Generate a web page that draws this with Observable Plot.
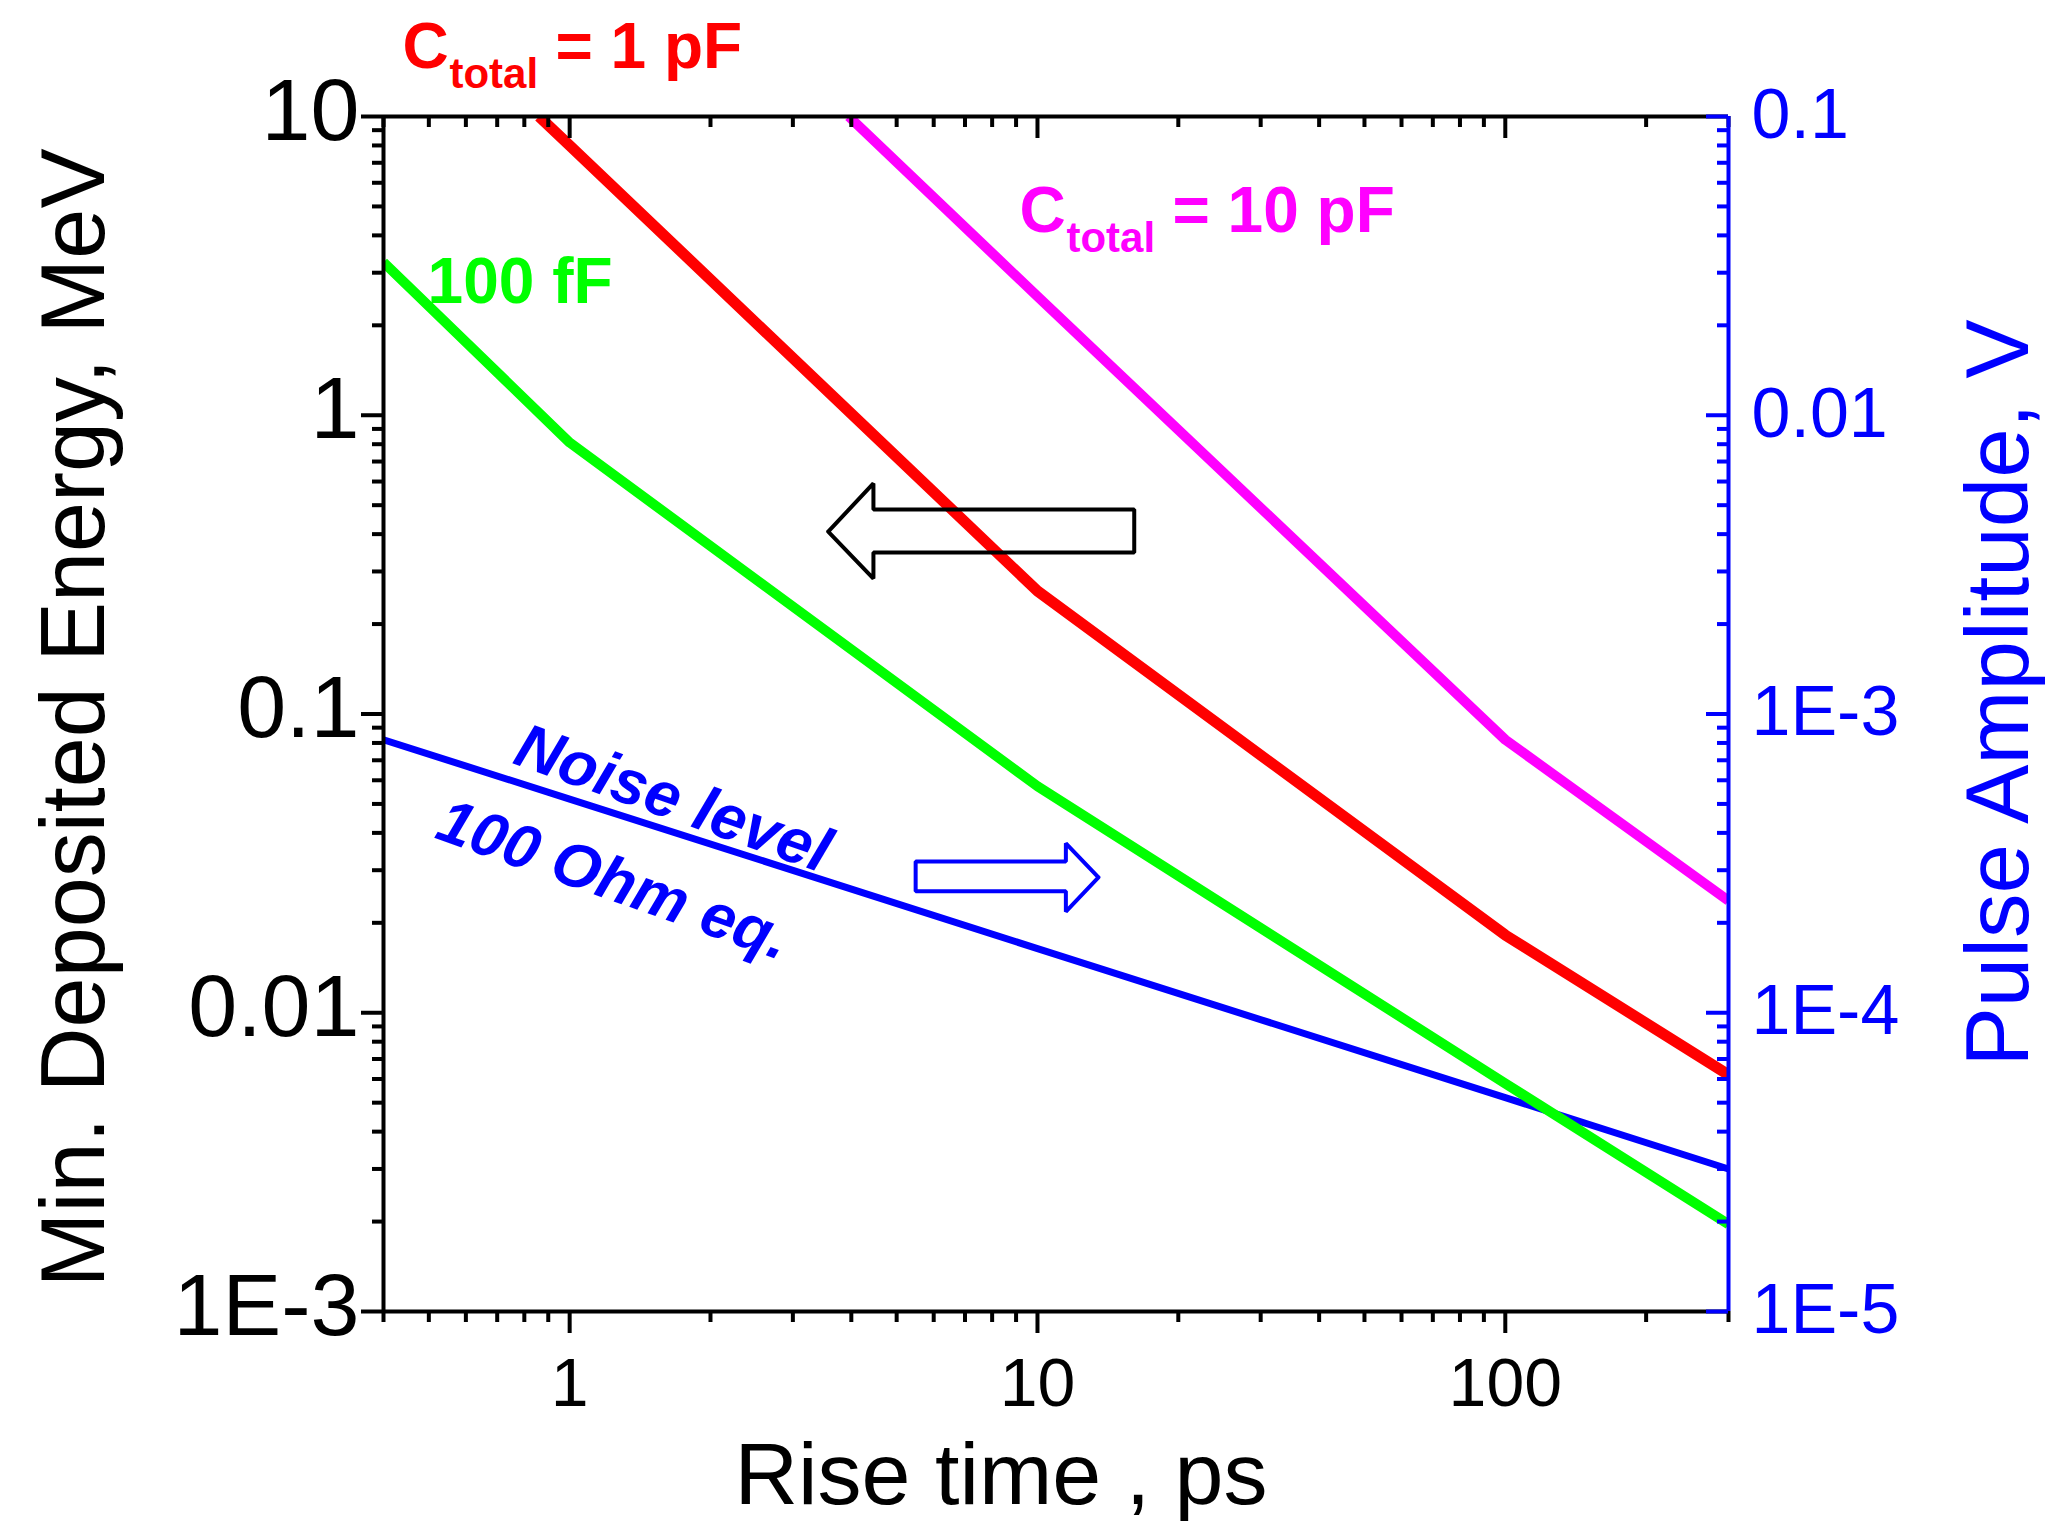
<!DOCTYPE html>
<html>
<head>
<meta charset="utf-8">
<script src="https://cdn.jsdelivr.net/npm/d3@7"></script>
<script src="https://cdn.jsdelivr.net/npm/@observablehq/plot@0.6"></script>
<style>
  html, body { margin: 0; padding: 0; background: #ffffff; }
  #chart svg { display: block; }
</style>
</head>
<body>
<div id="chart"></div>
<script>
// ---------- data ----------
const riseGreen   = [0.4, 1, 10, 100, 300];
const energyGreen = [3.25, 0.81, 0.0573, 0.0058, 0.00196];

const riseRed     = [0.86, 1, 10, 100, 300];
const energyRed   = [10, 8.0, 0.258, 0.0182, 0.0062];

const riseMagenta   = [3.95, 10, 100, 300];
const energyMagenta = [10, 2.5, 0.082, 0.0237];

const riseNoise   = [0.4, 1, 10, 100, 300];
const energyNoise = [0.082, 0.0519, 0.0164, 0.0052, 0.0030];

// axis ticks
const xDomain = [0.4, 300];
const yDomain = [1e-3, 10];
const xMajor = [1, 10, 100];
const xMajorLabels = ["1", "10", "100"];
const xMinor = [0.4, 0.5, 0.6, 0.7, 0.8, 0.9, 2, 3, 4, 5, 6, 7, 8, 9, 20, 30, 40, 50, 60, 70, 80, 90, 200, 300];
const yMajor = [1e-3, 1e-2, 1e-1, 1, 10];
const yLeftLabels = ["1E-3", "0.01", "0.1", "1", "10"];
const yRightLabels = ["1E-5", "1E-4", "1E-3", "0.01", "0.1"];
const yMinor = [2,3,4,5,6,7,8,9].flatMap(m => [1e-3, 1e-2, 1e-1, 1].map(d => +(m * d).toPrecision(3)));

// titles
const xTitle = "Rise time , ps";
const yTitle = "Min. Deposited Energy, MeV";
const y2Title = "Pulse Amplitude, V";

// annotation arrows (data coordinates)
const leftArrowX = [3.57, 4.46, 4.46, 16.1, 16.1, 4.46, 4.46, 3.57];
const leftArrowY = [0.408, 0.591, 0.484, 0.484, 0.347, 0.347, 0.284, 0.408];
const rightArrowX = [13.5, 11.5, 11.5, 5.49, 5.49, 11.5, 11.5, 13.5];
const rightArrowY = [0.0284, 0.0369, 0.0321, 0.0321, 0.0255, 0.0255, 0.0218, 0.0284];

// annotation labels
const labelRed = {x: 0.439, y: 14.5, main: "C", sub: "total", rest: "= 1 pF"};
const labelMagenta = {x: 9.15, y: 4.09, main: "C", sub: "total", rest: "= 10 pF"};
const labelGreen = {x: 0.497, y: 2.37, text: "100 fF"};
const labelNoise1 = {x: 0.75, y: 0.0685, text: "Noise level"};
const labelNoise2 = {x: 0.511, y: 0.0386, text: "100 Ohm eq."};

// ---------- build ----------
const toRows = (xs, ys) => xs.map((x, i) => ({x, y: ys[i]}));
const W = 2045, H = 1521;
const mL = 383, mR = 317, mT = 116, mB = 210;
const pw = W - mL - mR, ph = H - mT - mB;
const FONT = "'Liberation Sans', Arial, Helvetica, sans-serif";
const BLUE = "#0000ff", RED = "#ff0000", GREEN = "#00ff00", MAGENTA = "#ff00ff";
const leftMap = new Map(yMajor.map((v, i) => [v, yLeftLabels[i]]));
const rightMap = new Map(yMajor.map((v, i) => [v, yRightLabels[i]]));
const botMap = new Map(xMajor.map((v, i) => [v, xMajorLabels[i]]));

function subLabel(l, color) {
  return [
    Plot.text([l], {x: "x", y: "y", text: d => d.main, fill: color, fontSize: 64, fontWeight: "bold", textAnchor: "start", lineAnchor: "bottom"}),
    Plot.text([l], {x: "x", y: "y", text: d => d.sub, fill: color, fontSize: 42, fontWeight: "bold", textAnchor: "start", lineAnchor: "bottom", dx: 47, dy: 20}),
    Plot.text([l], {x: "x", y: "y", text: d => d.rest, fill: color, fontSize: 64, fontWeight: "bold", textAnchor: "start", lineAnchor: "bottom", dx: 153})
  ];
}

const chart = Plot.plot({
  width: W, height: H,
  marginLeft: mL, marginRight: mR, marginTop: mT, marginBottom: mB,
  style: {fontFamily: FONT, background: "#ffffff", overflow: "visible"},
  x: {type: "log", domain: xDomain},
  y: {type: "log", domain: yDomain},
  marks: [
    // data lines
    Plot.line(toRows(riseNoise, energyNoise), {x: "x", y: "y", stroke: BLUE, strokeWidth: 7, clip: true, strokeLinecap: "butt"}),
    Plot.line(toRows(riseGreen, energyGreen), {x: "x", y: "y", stroke: GREEN, strokeWidth: 10, clip: true, strokeLinecap: "butt"}),
    Plot.line(toRows(riseRed, energyRed), {x: "x", y: "y", stroke: RED, strokeWidth: 11, clip: true, strokeLinecap: "butt"}),
    Plot.line(toRows(riseMagenta, energyMagenta), {x: "x", y: "y", stroke: MAGENTA, strokeWidth: 10, clip: true, strokeLinecap: "butt"}),

    // arrows
    Plot.line(toRows(leftArrowX, leftArrowY), {x: "x", y: "y", stroke: "#000", strokeWidth: 4, strokeLinejoin: "miter", fill: "none"}),
    Plot.line(toRows(rightArrowX, rightArrowY), {x: "x", y: "y", stroke: BLUE, strokeWidth: 4, strokeLinejoin: "miter", fill: "none"}),

    // frame
    Plot.ruleY([yDomain[0]], {stroke: "#000", strokeWidth: 4}),
    Plot.ruleY([yDomain[1]], {stroke: "#000", strokeWidth: 4}),
    Plot.ruleX([xDomain[0]], {stroke: "#000", strokeWidth: 4}),

    // bottom ticks (outward)
    Plot.tickX(xMajor, {x: d => d, stroke: "#000", strokeWidth: 4, insetTop: ph, insetBottom: -22}),
    Plot.tickX(xMinor, {x: d => d, stroke: "#000", strokeWidth: 4, insetTop: ph, insetBottom: -11}),
    // top ticks (inward)
    Plot.tickX(xMajor, {x: d => d, stroke: "#000", strokeWidth: 4, insetBottom: ph - 22}),
    Plot.tickX(xMinor, {x: d => d, stroke: "#000", strokeWidth: 4, insetBottom: ph - 11}),
    // left ticks (outward)
    Plot.tickY(yMajor, {y: d => d, stroke: "#000", strokeWidth: 4, insetLeft: -22, insetRight: pw}),
    Plot.tickY(yMinor, {y: d => d, stroke: "#000", strokeWidth: 4, insetLeft: -11, insetRight: pw}),
    // right axis line and ticks (inward, blue)
    Plot.ruleX([xDomain[1]], {stroke: BLUE, strokeWidth: 4}),
    Plot.tickY(yMajor, {y: d => d, stroke: BLUE, strokeWidth: 4, insetLeft: pw - 22}),
    Plot.tickY(yMinor, {y: d => d, stroke: BLUE, strokeWidth: 4, insetLeft: pw - 11}),

    // tick labels
    Plot.axisX({anchor: "bottom", ticks: xMajor, tickSize: 0, tickPadding: 46, tickFormat: d => botMap.get(d), fontSize: 68, fill: "#000", label: null}),
    Plot.axisY({anchor: "left", ticks: yMajor, tickSize: 0, tickPadding: 24, tickFormat: d => leftMap.get(d), fontSize: 88, fill: "#000", label: null, dy: -5}),
    Plot.axisY({anchor: "right", ticks: yMajor, tickSize: 0, tickPadding: 23, tickFormat: d => rightMap.get(d), fontSize: 70, fill: BLUE, label: null, dy: -1}),

    // axis titles
    Plot.text([xTitle], {frameAnchor: "bottom", text: d => d, fontSize: 88, fill: "#000", textAnchor: "middle", lineAnchor: "bottom", dx: -55, dy: 192}),
    Plot.text([yTitle], {frameAnchor: "left", text: d => d, fontSize: 90, fill: "#000", textAnchor: "middle", lineAnchor: "bottom", rotate: -90, dx: -280, dy: 4}),
    Plot.text([y2Title], {frameAnchor: "right", text: d => d, fontSize: 89, fill: BLUE, textAnchor: "middle", lineAnchor: "bottom", rotate: -90, dx: 299, dy: -21}),

    // annotations
    ...subLabel(labelRed, RED),
    ...subLabel(labelMagenta, MAGENTA),
    Plot.text([labelGreen], {x: "x", y: "y", text: d => d.text, fill: GREEN, fontSize: 64, fontWeight: "bold", textAnchor: "start", lineAnchor: "bottom"}),
    Plot.text([labelNoise1], {x: "x", y: "y", text: d => d.text, fill: BLUE, fontSize: 63, fontWeight: "bold", fontStyle: "italic", textAnchor: "start", lineAnchor: "bottom", rotate: 19.5}),
    Plot.text([labelNoise2], {x: "x", y: "y", text: d => d.text, fill: BLUE, fontSize: 62, fontWeight: "bold", fontStyle: "italic", textAnchor: "start", lineAnchor: "bottom", rotate: 19.5})
  ]
});
document.getElementById("chart").appendChild(chart);
</script>
</body>
</html>
